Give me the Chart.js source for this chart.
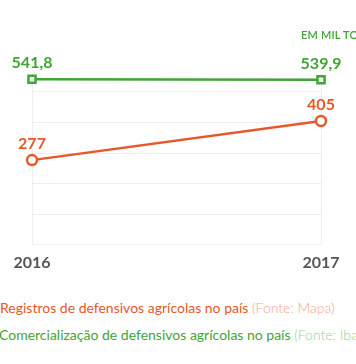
<!DOCTYPE html>
<html>
<head>
<meta charset="utf-8">
<script src="https://cdn.jsdelivr.net/npm/chart.js@4/dist/chart.umd.min.js"></script>
<style>
  html, body { margin: 0; padding: 0; background: #fff; }
  #wrap { position: relative; width: 356px; height: 364px; overflow: hidden; font-family: Lato, "Open Sans", sans-serif; }
  #c { position: absolute; left: 0; top: 0; }
  .unit { position: absolute; left: 301px; top: 28px; font-size: 11px; font-weight: 600; color: #3fa535; white-space: nowrap; letter-spacing: 0.2px; }
  .leg { position: absolute; white-space: nowrap; font-size: 14px; }
  .l1 { left: 0px; top: 299px; color: #e8572a; }
  .l1 .src { color: #f2a58a; font-weight: 300; }
  .l2 { left: -1px; top: 326px; color: #3fa535; }
  .l2 .src { color: #9ccf96; font-weight: 300; }
</style>
</head>
<body>
<div id="wrap">
  <canvas id="c" width="356" height="288"></canvas>
  <div class="unit">EM MIL TONELADAS</div>
  <div class="leg l1">Registros de defensivos agrícolas no país <span class="src">(Fonte: Mapa)</span></div>
  <div class="leg l2">Comercialização de defensivos agrícolas no país <span class="src">(Fonte: Ibama)</span></div>
</div>
<script>
const years = ["2016", "2017"];
const registros = [277, 405];
const comercializacao = [541.8, 539.9];
const seriesNames = ["Registros de defensivos agrícolas no país", "Comercialização de defensivos agrícolas no país"];

const ORANGE = "#e8572a";
const GREEN = "#3fa535";

const fmt = v => v.toLocaleString("pt-BR", { maximumFractionDigits: 1 });

const labelPlugin = {
  id: "valueLabels",
  afterDatasetsDraw(chart) {
    const ctx = chart.ctx;
    ctx.save();
    ctx.font = "bold 16px Lato, sans-serif";
    ctx.textAlign = "center";
    ctx.textBaseline = "bottom";
    chart.data.datasets.forEach((ds, i) => {
      const meta = chart.getDatasetMeta(i);
      ctx.fillStyle = ds.borderColor;
      meta.data.forEach((pt, j) => {
        ctx.fillText(fmt(ds.data[j]), pt.x, pt.y - 8);
      });
    });
    ctx.restore();
  }
};

new Chart(document.getElementById("c"), {
  type: "line",
  data: {
    labels: years,
    datasets: [
      {
        label: seriesNames[1],
        data: comercializacao,
        borderColor: GREEN,
        backgroundColor: "#ffffff",
        borderWidth: 2.5,
        pointStyle: "rect",
        pointRadius: 5,
        pointBorderWidth: 2.5,
        pointBackgroundColor: "#ffffff",
        pointBorderColor: GREEN,
        tension: 0
      },
      {
        label: seriesNames[0],
        data: registros,
        borderColor: ORANGE,
        backgroundColor: "#ffffff",
        borderWidth: 2.5,
        pointStyle: "circle",
        pointRadius: 5,
        pointBorderWidth: 2.5,
        pointBackgroundColor: "#ffffff",
        pointBorderColor: ORANGE,
        tension: 0
      }
    ]
  },
  options: {
    responsive: false,
    animation: false,
    events: [],
    layout: { padding: { left: 32, right: 35, top: 73.6, bottom: 8 } },
    plugins: { legend: { display: false }, tooltip: { enabled: false } },
    scales: {
      x: {
        offset: false,
        grid: { color: "#eeeeee", lineWidth: 1, drawTicks: false },
        border: { display: false },
        ticks: { color: "#555555", font: { family: "Lato", size: 16, weight: "bold" }, padding: 8, maxRotation: 0 }
      },
      y: {
        min: 0,
        max: 560,
        grid: { color: "#eeeeee", lineWidth: 1, drawTicks: false },
        border: { display: false },
        ticks: { display: false, stepSize: 100, includeBounds: false }
      }
    }
  },
  plugins: [labelPlugin]
});
</script>
</body>
</html>
